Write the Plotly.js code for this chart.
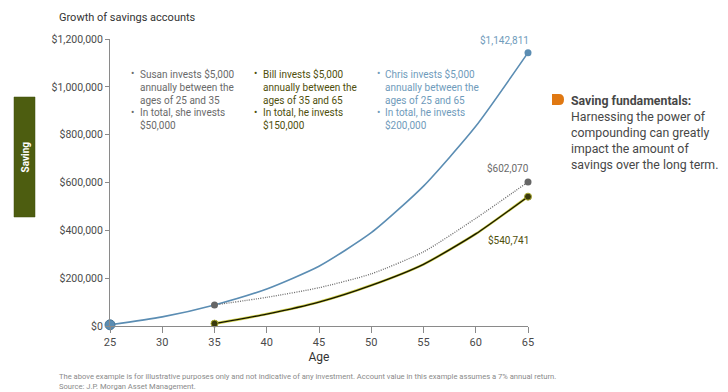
<!DOCTYPE html>
<html>
<head>
<meta charset="utf-8">
<script src="https://cdn.plot.ly/plotly-3.0.1.min.js"></script>
<style>
  html, body { margin: 0; padding: 0; background: #ffffff; }
  #chart { width: 728px; height: 392px; }
</style>
</head>
<body>
<div id="chart"></div>
<script>
// ---- data ----
const chrisAges   = [25, 30, 35, 40, 45, 50, 55, 60, 65];
const chrisValues = [5000, 38000, 88000, 155000, 250000, 390000, 585000, 835000, 1142811];

const susanAges   = [35, 40, 45, 50, 55, 60, 65];
const susanValues = [88000, 120000, 160000, 218000, 310000, 450000, 602070];

const billAges    = [35, 40, 45, 50, 55, 60, 65];
const billValues  = [10000, 50000, 100000, 170000, 258000, 385000, 540741];

const xTicks      = [25, 30, 35, 40, 45, 50, 55, 60, 65];
const yTicks      = [0, 200000, 400000, 600000, 800000, 1000000, 1200000];
const yTickLabels = ["$0", "$200,000", "$400,000", "$600,000", "$800,000", "$1,000,000", "$1,200,000"];

const endLabels = ["$1,142,811", "$602,070", "$540,741"];

const susanText1 = ["Susan invests $5,000", "annually between the", "ages of 25 and 35"];
const susanText2 = ["In total, she invests", "$50,000"];
const billText1  = ["Bill invests $5,000", "annually between the", "ages of 35 and 65"];
const billText2  = ["In total, he invests", "$150,000"];
const chrisText1 = ["Chris invests $5,000", "annually between the", "ages of 25 and 65"];
const chrisText2 = ["In total, he invests", "$200,000"];

const sideHead  = "Saving fundamentals:";
const sideLines = ["Harnessing the power of", "compounding can greatly", "impact the amount of", "savings over the long term."];

const titleText  = "Growth of savings accounts";
const xTitle     = "Age";
const sideTab    = "Saving";
const footer1    = "The above example is for illustrative purposes only and not indicative of any investment. Account value in this example assumes a 7% annual return.";
const footer2    = "Source: J.P. Morgan Asset Management.";

// ---- styling ----
const FONT = "Roboto, 'Open Sans', sans-serif";
const BLUE = "#5b8db3", BLUE_TXT = "#6f9bbb";
const GREY = "#6a6a6a";
const OLIVE_TXT = "#4f4f0c";

const L = 110, T = 39, W = 418, H = 287;
const px = x => (x - L) / W;
const py = y => (T + H - y) / H;

const traces = [
  { x: chrisAges, y: chrisValues, mode: "lines", type: "scatter",
    line: { color: BLUE, width: 1.6, shape: "spline", smoothing: 0.6 }, hoverinfo: "skip" },
  { x: susanAges, y: susanValues, mode: "lines", type: "scatter",
    line: { color: "#6a6a6a", width: 1.3, dash: "1px,1.3px", shape: "spline", smoothing: 0.6 }, hoverinfo: "skip" },
  { x: billAges, y: billValues, mode: "lines", type: "scatter",
    line: { color: "#cfcf45", width: 2.6, shape: "spline", smoothing: 0.6 }, hoverinfo: "skip" },
  { x: billAges, y: billValues, mode: "lines", type: "scatter",
    line: { color: "#141400", width: 1.3, shape: "spline", smoothing: 0.6 }, hoverinfo: "skip" },
  // start / end markers
  { x: [chrisAges[0]], y: [chrisValues[0]], mode: "markers", type: "scatter",
    marker: { color: BLUE, size: 10, line: { color: "#4a7898", width: 1 } }, cliponaxis: false, hoverinfo: "skip" },
  { x: [chrisAges[chrisAges.length - 1]], y: [chrisValues[chrisValues.length - 1]], mode: "markers", type: "scatter",
    marker: { color: BLUE, size: 7 }, cliponaxis: false, hoverinfo: "skip" },
  { x: [susanAges[0], susanAges[susanAges.length - 1]], y: [susanValues[0], susanValues[susanValues.length - 1]],
    mode: "markers", type: "scatter", marker: { color: "#666666", size: 7 }, cliponaxis: false, hoverinfo: "skip" },
  { x: [billAges[0], billAges[billAges.length - 1]], y: [billValues[0], billValues[billValues.length - 1]],
    mode: "markers", type: "scatter", marker: { color: "#3a3a0c", size: 7, line: { color: "#a8a830", width: 1 } },
    cliponaxis: false, hoverinfo: "skip" }
];

const ann = [];
function addBlock(bx, tx, lines1, lines2, color) {
  ann.push({ xref: "paper", yref: "paper", x: px(bx), y: py(73.5), text: "•", showarrow: false,
    xanchor: "center", yanchor: "middle", font: { family: FONT, size: 10, color: color } });
  ann.push({ xref: "paper", yref: "paper", x: px(tx), y: py(86.5), text: lines1.join("<br>"), showarrow: false,
    xanchor: "left", yanchor: "middle", align: "left", font: { family: FONT, size: 10, color: color } });
  ann.push({ xref: "paper", yref: "paper", x: px(bx), y: py(112.5), text: "•", showarrow: false,
    xanchor: "center", yanchor: "middle", font: { family: FONT, size: 10, color: color } });
  ann.push({ xref: "paper", yref: "paper", x: px(tx), y: py(119), text: lines2.join("<br>"), showarrow: false,
    xanchor: "left", yanchor: "middle", align: "left", font: { family: FONT, size: 10, color: color } });
}
addBlock(132.5, 137.5, susanText1, susanText2, GREY);
addBlock(255.5, 261, billText1, billText2, OLIVE_TXT);
addBlock(378, 383, chrisText1, chrisText2, BLUE_TXT);

// end-value labels
ann.push({ xref: "paper", yref: "paper", x: px(531), y: py(40.5), text: endLabels[0], showarrow: false,
  xanchor: "right", yanchor: "middle", font: { family: FONT, size: 10, color: BLUE_TXT } });
ann.push({ xref: "paper", yref: "paper", x: px(531), y: py(168), text: endLabels[1], showarrow: false,
  xanchor: "right", yanchor: "middle", font: { family: FONT, size: 10, color: GREY } });
ann.push({ xref: "paper", yref: "paper", x: px(531), y: py(240), text: endLabels[2], showarrow: false,
  xanchor: "right", yanchor: "middle", font: { family: FONT, size: 10, color: OLIVE_TXT } });

// title
ann.push({ xref: "paper", yref: "paper", x: px(57), y: py(17.5), text: titleText, showarrow: false,
  xanchor: "left", yanchor: "middle", font: { family: FONT, size: 11, color: "#333333" } });

// right-hand text (heading + 4 lines)
ann.push({ xref: "paper", yref: "paper", x: px(569), y: py(133), align: "left",
  text: "<b>" + sideHead + "</b><br>" + sideLines.join("<br>"), showarrow: false,
  xanchor: "left", yanchor: "middle", font: { family: FONT, size: 12.3, color: "#474747" } });

// left vertical tab text
ann.push({ xref: "paper", yref: "paper", x: px(24.5), y: py(157), text: "<b>" + sideTab + "</b>", showarrow: false,
  textangle: -90, xanchor: "center", yanchor: "middle", font: { family: FONT, size: 10, color: "#ffffff" } });

// footer
ann.push({ xref: "paper", yref: "paper", x: px(57), y: py(381.5), align: "left",
  text: footer1 + "<br>" + footer2, showarrow: false,
  xanchor: "left", yanchor: "middle", font: { family: FONT, size: 7.6, color: "#8a8a8a" } });

const shapes = [
  // left green tab
  { type: "rect", xref: "paper", yref: "paper", x0: px(14), x1: px(35), y0: py(217), y1: py(97),
    fillcolor: "#4d5d10", line: { color: "#3f4d0a", width: 0.5 } },
  // orange tab icon
  { type: "path", xref: "paper", yref: "paper",
    path: "M " + px(552) + "," + py(94) + " L " + px(559) + "," + py(94) +
          " Q " + px(564) + "," + py(94) + " " + px(564) + "," + py(99.5) +
          " Q " + px(564) + "," + py(105) + " " + px(559) + "," + py(105) +
          " L " + px(552) + "," + py(105) + " Z",
    fillcolor: "#e07812", line: { width: 0 } }
];

const layout = {
  width: 728, height: 392,
  margin: { l: L, r: 728 - L - W, t: T, b: 392 - T - H, pad: 0 },
  paper_bgcolor: "#ffffff", plot_bgcolor: "#ffffff",
  showlegend: false,
  font: { family: FONT, color: "#444" },
  xaxis: {
    range: [25, 65], tickvals: xTicks, ticktext: xTicks.map(String),
    showgrid: false, zeroline: false, showline: true, linecolor: "#8a8a8a", linewidth: 1,
    ticks: "outside", ticklen: 6, tickcolor: "#8a8a8a", tickwidth: 1,
    tickfont: { family: FONT, size: 11, color: "#4a4a4a" },
    title: { text: xTitle, font: { family: FONT, size: 12, color: "#333" }, standoff: 4 },
    fixedrange: true
  },
  yaxis: {
    range: [0, 1200000], tickvals: yTicks, ticktext: yTickLabels,
    showgrid: false, zeroline: false, showline: true, linecolor: "#8a8a8a", linewidth: 1,
    ticks: "outside", ticklen: 4, tickcolor: "#8a8a8a", tickwidth: 1,
    tickfont: { family: FONT, size: 10.5, color: "#4a4a4a" },
    fixedrange: true
  },
  annotations: ann,
  shapes: shapes
};

Plotly.newPlot("chart", traces, layout, { displayModeBar: false, staticPlot: true });
</script>
</body>
</html>
